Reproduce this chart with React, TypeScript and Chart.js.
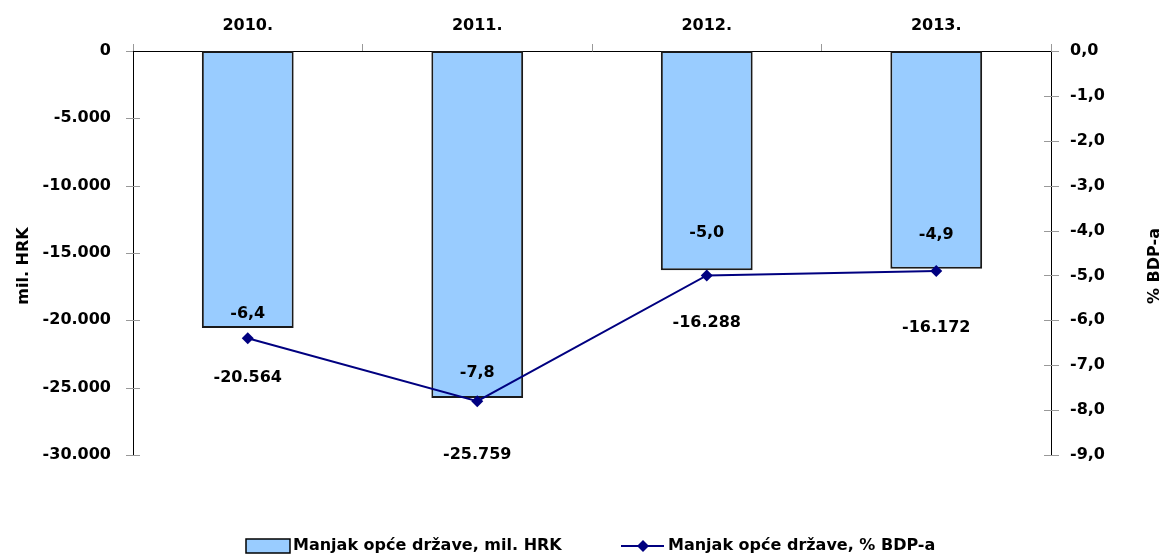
import React, { useEffect, useRef } from "react";
import { Chart, registerables } from "chart.js";

Chart.register(...registerables);

const categories = ["2010.", "2011.", "2012.", "2013."];
const deficitHRK = [-20564, -25759, -16288, -16172];
const deficitGDP = [-6.4, -7.8, -5.0, -4.9];
const seriesNames = ["Manjak opće države, mil. HRK", "Manjak opće države, % BDP-a"];
const leftTitle = "mil. HRK";
const rightTitle = "% BDP-a";

const FONT = "'DejaVu Sans'";
const FS = 16;
const BAR_FILL = "#99CCFF";
const LINE_COLOR = "#000080";

const barLabelOffsets = [50, 57, 52, 59];
const lineLabelOffsets = [-24, -28, -43, -36];

const fmtThousands = (v: number) => {
  const s = Math.abs(Math.round(v)).toString().replace(/\B(?=(\d{3})+(?!\d))/g, ".");
  return (v < 0 ? "-" : "") + s;
};
const fmtOneDec = (v: number) => v.toFixed(1).replace(".", ",");

const overlayPlugin = {
  id: "overlay",
  beforeDatasetsDraw(chart: any) {
    const ctx = chart.ctx;
    const { left, right } = chart.chartArea;
    ctx.save();
    ctx.strokeStyle = "#999999";
    ctx.lineWidth = 1;
    const y = chart.scales.y;
    y.ticks.forEach((t: any) => {
      const py = Math.round(y.getPixelForValue(t.value)) + 0.5;
      ctx.beginPath();
      ctx.moveTo(left - 7, py);
      ctx.lineTo(t.value === 0 ? left : left + 7, py);
      ctx.stroke();
    });
    const y1 = chart.scales.y1;
    y1.ticks.forEach((t: any) => {
      const py = Math.round(y1.getPixelForValue(t.value)) + 0.5;
      ctx.beginPath();
      ctx.moveTo(t.value === 0 ? right : right - 7, py);
      ctx.lineTo(right + 8, py);
      ctx.stroke();
    });
    ctx.restore();
  },
  afterDatasetsDraw(chart: any) {
    const ctx = chart.ctx;
    ctx.save();
    ctx.font = `bold ${FS}px ${FONT}`;
    ctx.fillStyle = "#000";
    ctx.textAlign = "center";
    ctx.textBaseline = "middle";
    const barMeta = chart.getDatasetMeta(0);
    barMeta.data.forEach((el: any, i: number) => {
      ctx.fillText(fmtThousands(deficitHRK[i]), el.x, el.y + barLabelOffsets[i]);
    });
    const lineMeta = chart.getDatasetMeta(1);
    lineMeta.data.forEach((el: any, i: number) => {
      ctx.fillText(fmtOneDec(deficitGDP[i]), el.x, el.y + lineLabelOffsets[i]);
    });
    ctx.restore();
  },
  afterDraw(chart: any) {
    const ctx = chart.ctx;
    const midY = 266;
    ctx.save();
    ctx.font = `bold ${FS}px ${FONT}`;
    ctx.fillStyle = "#000";
    ctx.textAlign = "center";
    ctx.textBaseline = "middle";
    ctx.save();
    ctx.translate(24, midY);
    ctx.rotate(-Math.PI / 2);
    ctx.fillText(leftTitle, 0, 0);
    ctx.restore();
    ctx.save();
    ctx.translate(1155, midY);
    ctx.rotate(-Math.PI / 2);
    ctx.fillText(rightTitle, 0, 0);
    ctx.restore();
    // legend
    const ly = 546;
    ctx.fillStyle = BAR_FILL;
    ctx.fillRect(246, ly - 7, 44, 14);
    ctx.strokeStyle = "#000";
    ctx.lineWidth = 1.5;
    ctx.strokeRect(246, ly - 7, 44, 14);
    ctx.fillStyle = "#000";
    ctx.textAlign = "left";
    ctx.fillText(seriesNames[0], 293, ly);
    ctx.strokeStyle = LINE_COLOR;
    ctx.lineWidth = 2;
    ctx.beginPath();
    ctx.moveTo(621, ly);
    ctx.lineTo(664, ly);
    ctx.stroke();
    ctx.fillStyle = LINE_COLOR;
    ctx.beginPath();
    ctx.moveTo(643, ly - 6);
    ctx.lineTo(649, ly);
    ctx.lineTo(643, ly + 6);
    ctx.lineTo(637, ly);
    ctx.closePath();
    ctx.fill();
    ctx.fillStyle = "#000";
    ctx.fillText(seriesNames[1], 668, ly);
    ctx.restore();
  },
};

export default function App() {
  const ref = useRef<HTMLCanvasElement | null>(null);
  useEffect(() => {
    if (!ref.current) return;
    const chart = new Chart(ref.current, {
      type: "bar",
      data: {
        labels: categories,
        datasets: [
          {
            type: "bar",
            label: seriesNames[0],
            data: deficitHRK,
            backgroundColor: BAR_FILL,
            borderColor: "#1a1a1a",
            borderWidth: 2,
            borderSkipped: false,
            yAxisID: "y",
            categoryPercentage: 1,
            barPercentage: 0.4,
            order: 2,
          } as any,
          {
            type: "line",
            label: seriesNames[1],
            data: deficitGDP,
            borderColor: LINE_COLOR,
            borderWidth: 2,
            backgroundColor: LINE_COLOR,
            pointStyle: "rectRot",
            pointRadius: 6,
            pointBackgroundColor: LINE_COLOR,
            pointBorderColor: LINE_COLOR,
            pointBorderWidth: 0,
            tension: 0,
            yAxisID: "y1",
            order: 1,
          } as any,
        ],
      },
      options: {
        animation: false,
        responsive: false,
        maintainAspectRatio: false,
        layout: { padding: { left: 0, right: 0, top: 0, bottom: 102 } },
        plugins: {
          legend: { display: false },
          tooltip: { enabled: false },
          title: { display: false },
        },
        scales: {
          x: {
            type: "category",
            position: "top",
            offset: true,
            grid: {
              offset: true,
              drawOnChartArea: false,
              drawTicks: true,
              tickLength: 7,
              color: "#999999",
            },
            border: { display: true, color: "#000", width: 1 },
            ticks: {
              color: "#000",
              font: { family: FONT, size: FS, weight: "bold" },
              padding: 9,
              maxRotation: 0,
            },
            afterFit: (s: any) => {
              s.height = 51;
            },
          },
          y: {
            position: "left",
            min: -30000,
            max: 0,
            grid: { display: false, drawTicks: false },
            border: { display: true, color: "#000", width: 1 },
            ticks: {
              stepSize: 5000,
              color: "#000",
              padding: 22,
              font: { family: FONT, size: FS, weight: "bold" },
              callback: (v: any) => fmtThousands(Number(v)),
            },
            afterFit: (s: any) => {
              s.width = 133;
            },
          },
          y1: {
            position: "right",
            min: -9,
            max: 0,
            grid: { display: false, drawTicks: false },
            border: { display: true, color: "#000", width: 1 },
            ticks: {
              stepSize: 1,
              color: "#000",
              padding: 19,
              font: { family: FONT, size: FS, weight: "bold" },
              callback: (v: any) => fmtOneDec(Number(v)),
            },
            afterFit: (s: any) => {
              s.width = 117;
            },
          },
        },
      },
      plugins: [overlayPlugin],
    });
    return () => chart.destroy();
  }, []);
  return (
    <canvas
      ref={ref}
      width={1168}
      height={557}
      style={{ display: "block", position: "fixed", left: 0, top: 0, width: 1168, height: 557 }}
    />
  );
}
